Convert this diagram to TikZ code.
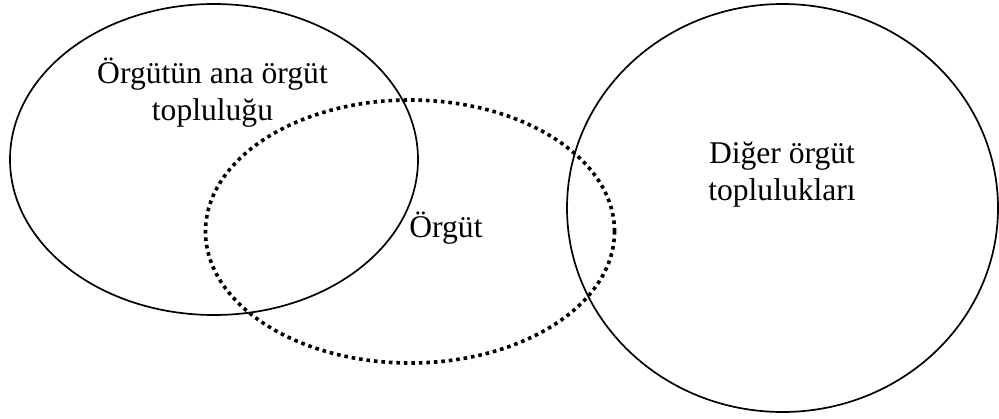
\documentclass[tikz,border=0pt]{standalone}
\usepackage{fontspec}
\setmainfont{Liberation Serif}
\usetikzlibrary{shapes.geometric}
\begin{document}
\begin{tikzpicture}[x=1pt,y=-1pt,
  solidset/.style={draw=black, line width=1.7pt, ellipse, inner sep=0pt},
  dotset/.style={draw=black, line width=3.6pt, ellipse, inner sep=0pt, dash pattern=on 3.6pt off 3.9pt},
  lbl/.style={anchor=base, inner sep=0pt, font=\fontsize{31.6}{36.5}\selectfont}]
\useasboundingbox (0,0) rectangle (999,418);
\node[solidset, minimum width=408pt, minimum height=311pt] (parent) at (214,159.5) {};
\node[solidset, minimum width=431pt, minimum height=408pt] (others) at (782.5,208) {};
\node[dotset, minimum width=409pt, minimum height=263pt] (org) at (410,231.5) {};
\node[lbl] (parentlbl) at (212.5,83.5) {\begin{tabular}[t]{@{}c@{}}Örgütün ana örgüt\\topluluğu\end{tabular}};
\node[lbl] (otherslbl) at (782,163.5) {\begin{tabular}[t]{@{}c@{}}Diğer örgüt\\toplulukları\end{tabular}};
\node[lbl] (orglbl) at (446,237) {Örgüt};
\end{tikzpicture}
\end{document}
